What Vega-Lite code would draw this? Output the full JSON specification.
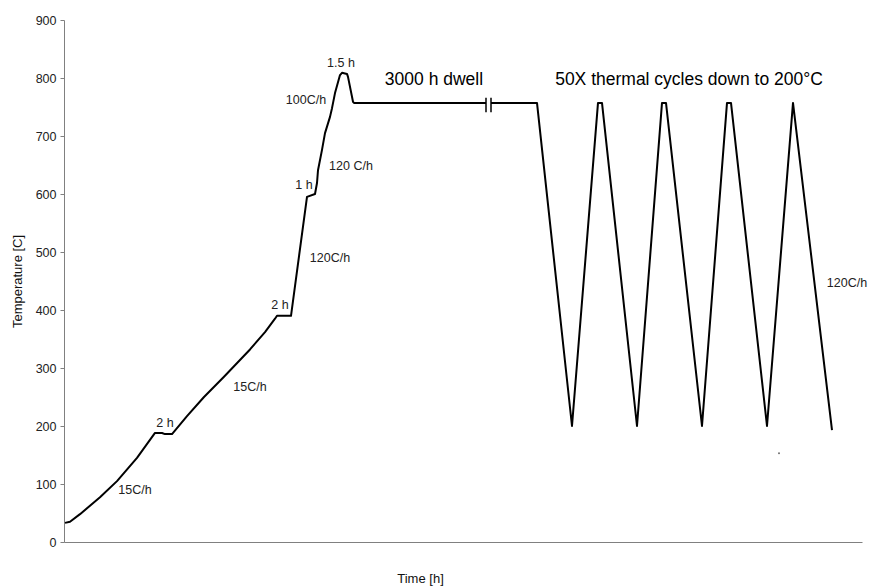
{
  "$schema": "https://vega.github.io/schema/vega-lite/v6.json",
  "autosize": "none",
  "width": 798,
  "height": 522,
  "padding": {"left": 64, "top": 20, "right": 14, "bottom": 45},
  "background": "white",
  "config": {"view": {"stroke": null}, "font": "Liberation Sans"},
  "datasets": {
    "profile": [
      {"t": 1, "temp": 33, "seg": "a"},
      {"t": 6, "temp": 35, "seg": "a"},
      {"t": 16, "temp": 48, "seg": "a"},
      {"t": 36, "temp": 77, "seg": "a"},
      {"t": 53, "temp": 105, "seg": "a"},
      {"t": 73, "temp": 145, "seg": "a"},
      {"t": 91, "temp": 188, "seg": "a"},
      {"t": 98, "temp": 188, "seg": "a"},
      {"t": 101, "temp": 186, "seg": "a"},
      {"t": 108, "temp": 186, "seg": "a"},
      {"t": 123, "temp": 217, "seg": "a"},
      {"t": 140, "temp": 250, "seg": "a"},
      {"t": 160, "temp": 285, "seg": "a"},
      {"t": 186, "temp": 332, "seg": "a"},
      {"t": 201, "temp": 362, "seg": "a"},
      {"t": 211, "temp": 385, "seg": "a"},
      {"t": 213, "temp": 390, "seg": "a"},
      {"t": 227, "temp": 390, "seg": "a"},
      {"t": 243, "temp": 595, "seg": "a"},
      {"t": 251, "temp": 600, "seg": "a"},
      {"t": 253, "temp": 619, "seg": "a"},
      {"t": 254, "temp": 641, "seg": "a"},
      {"t": 258, "temp": 676, "seg": "a"},
      {"t": 261, "temp": 705, "seg": "a"},
      {"t": 266, "temp": 733, "seg": "a"},
      {"t": 268, "temp": 748, "seg": "a"},
      {"t": 271, "temp": 774, "seg": "a"},
      {"t": 276, "temp": 805, "seg": "a"},
      {"t": 278, "temp": 809, "seg": "a"},
      {"t": 283, "temp": 807, "seg": "a"},
      {"t": 284, "temp": 802, "seg": "a"},
      {"t": 289, "temp": 759, "seg": "a"},
      {"t": 290, "temp": 757, "seg": "a"},
      {"t": 422, "temp": 757, "seg": "a"},
      {"t": 427, "temp": 757, "seg": "b"},
      {"t": 473, "temp": 757, "seg": "b"},
      {"t": 508, "temp": 200, "seg": "b"},
      {"t": 534, "temp": 757, "seg": "b"},
      {"t": 538, "temp": 757, "seg": "b"},
      {"t": 573, "temp": 200, "seg": "b"},
      {"t": 598, "temp": 757, "seg": "b"},
      {"t": 602, "temp": 757, "seg": "b"},
      {"t": 638, "temp": 200, "seg": "b"},
      {"t": 663, "temp": 757, "seg": "b"},
      {"t": 667, "temp": 757, "seg": "b"},
      {"t": 703, "temp": 200, "seg": "b"},
      {"t": 729, "temp": 757, "seg": "b"},
      {"t": 768, "temp": 193, "seg": "b"}
    ],
    "breaks": [
      {"t": 422, "lo": 741, "hi": 766},
      {"t": 427, "lo": 741, "hi": 766}
    ],
    "small": [
      {"t": 71, "temp": 90, "label": "15C/h"},
      {"t": 101, "temp": 205, "label": "2 h"},
      {"t": 186, "temp": 267, "label": "15C/h"},
      {"t": 216, "temp": 409, "label": "2 h"},
      {"t": 266, "temp": 490, "label": "120C/h"},
      {"t": 240, "temp": 616, "label": "1 h"},
      {"t": 287, "temp": 648, "label": "120 C/h"},
      {"t": 242, "temp": 762, "label": "100C/h"},
      {"t": 277, "temp": 826, "label": "1.5 h"},
      {"t": 783, "temp": 447, "label": "120C/h"}
    ],
    "big": [
      {"t": 370, "temp": 797, "label": "3000 h dwell"},
      {"t": 625, "temp": 797, "label": "50X thermal cycles down to 200°C"}
    ],
    "dot": [
      {"t": 715, "temp": 153}
    ]
  },
  "layer": [
    {
      "data": {"name": "profile"},
      "mark": {"type": "line", "color": "black", "strokeWidth": 2, "strokeJoin": "round"},
      "encoding": {
        "x": {
          "field": "t", "type": "quantitative",
          "scale": {"domain": [0, 798], "nice": false},
          "axis": {
            "title": "Time [h]", "ticks": false, "labels": false, "grid": false,
            "domainColor": "#808080", "domainWidth": 1,
            "titleFont": "Liberation Sans", "titleFontSize": 13, "titleFontWeight": "normal", "titleColor": "#111",
            "titleX": 356, "titleY": 36, "titleAlign": "center", "titleBaseline": "middle"
          }
        },
        "y": {
          "field": "temp", "type": "quantitative",
          "scale": {"domain": [0, 900], "nice": false},
          "axis": {
            "title": "Temperature [C]", "grid": false,
            "values": [0, 50, 100, 150, 200, 250, 300, 350, 400, 450, 500, 550, 600, 650, 700, 750, 800, 850, 900],
            "labelExpr": "datum.value % 100 == 0 ? datum.label : ''",
            "tickSize": 4, "tickColor": "#808080", "domainColor": "#808080",
            "labelFont": "Liberation Sans", "labelFontSize": 12.5, "labelColor": "#222", "labelPadding": 4,
            "titleFont": "Liberation Sans", "titleFontSize": 13, "titleFontWeight": "normal", "titleColor": "#111",
            "titleX": -47, "titleY": 261, "titleAngle": 270, "titleAlign": "center", "titleBaseline": "middle"
          }
        },
        "detail": {"field": "seg"}
      }
    },
    {
      "data": {"name": "breaks"},
      "mark": {"type": "rule", "color": "black", "strokeWidth": 1.5},
      "encoding": {
        "x": {"field": "t", "type": "quantitative"},
        "y": {"field": "lo", "type": "quantitative"},
        "y2": {"field": "hi"}
      }
    },
    {
      "data": {"name": "small"},
      "mark": {"type": "text", "font": "Liberation Sans", "fontSize": 12.5, "color": "#222", "align": "center", "baseline": "middle"},
      "encoding": {
        "x": {"field": "t", "type": "quantitative"},
        "y": {"field": "temp", "type": "quantitative"},
        "text": {"field": "label"}
      }
    },
    {
      "data": {"name": "big"},
      "mark": {"type": "text", "font": "Liberation Sans", "fontSize": 17.5, "color": "black", "align": "center", "baseline": "middle"},
      "encoding": {
        "x": {"field": "t", "type": "quantitative"},
        "y": {"field": "temp", "type": "quantitative"},
        "text": {"field": "label"}
      }
    },
    {
      "data": {"name": "dot"},
      "mark": {"type": "point", "filled": true, "color": "#333", "size": 4},
      "encoding": {
        "x": {"field": "t", "type": "quantitative"},
        "y": {"field": "temp", "type": "quantitative"}
      }
    }
  ]
}
